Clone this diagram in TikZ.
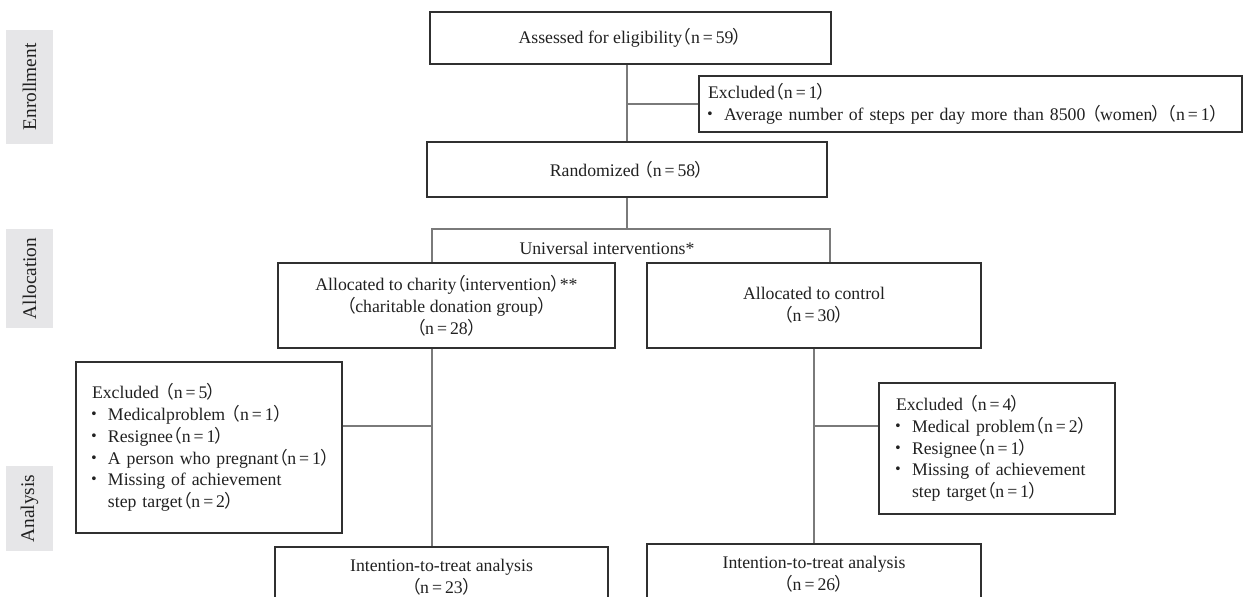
\documentclass[tikz,border=0pt]{standalone}
\usepackage{fontspec}
\setmainfont{Liberation Serif}
\newfontfamily\cjk[RawFeature=+palt]{Noto Sans CJK JP}
\usetikzlibrary{positioning, calc}
\definecolor{phasegray}{HTML}{E6E6E8}
\definecolor{boxline}{HTML}{303030}
\definecolor{linkgray}{HTML}{7A7A7A}
\newcommand\po{{\cjk （}}
\newcommand\pc{{\cjk ）}}
\newcommand\ncount[1]{\po n\,=\,#1\pc}
\newcommand\dotitem{\makebox[0.9em][l]{\hspace{-0.1em}{\cjk ・}}}

\begin{document}
\begin{tikzpicture}[
    x=0.02cm, y=-0.02cm,
    every node/.style={font=\fontsize{10.1}{12.4}\selectfont, text=black!87},
    flowbox/.style={draw=boxline, line width=1.1pt, rectangle, inner sep=0pt, fill=white},
    listbox/.style={flowbox, align=left},
    link/.style={draw=linkgray, line width=0.8pt},
    phase/.style={fill=phasegray, rotate=90, minimum height=0.94cm, font=\fontsize{11}{13}\selectfont}
]
    \useasboundingbox (0,0) rectangle (1243,597);

    % Phase labels (left column)
    \node[phase, minimum width=2.28cm] (enroll) at (29.5,87) {Enrollment};
    \node[phase, minimum width=1.98cm] (alloc) at (29.5,278.5) {Allocation};
    \node[phase, minimum width=1.7cm] (analys) at (29.5,508.5) {Analysis};

    % Enrollment
    \node[flowbox, minimum width=8.02cm, minimum height=1.04cm] (assess) at (630.5,38) {Assessed for eligibility\ncount{59}};
    \node[listbox, minimum height=1.12cm, text width=10.5cm, inner xsep=0.18cm] (exc0) at (970.5,104)
        {Excluded\ncount{1}\\
         \dotitem Average number of steps per day more than 8500 \po women\pc\ \ncount{1}};
    \node[flowbox, minimum width=8cm, minimum height=1.1cm] (rand) at (627,169.5) {Randomized \ncount{58}};

    % Allocation
    \node (univ) at (607,248) {Universal interventions*};
    \node[flowbox, minimum width=6.74cm, minimum height=1.7cm, align=center] (charity) at (446.5,305.5)
        {Allocated to charity\po intervention\pc**\\\po charitable donation group\pc\\\ncount{28}};
    \node[flowbox, minimum width=6.68cm, minimum height=1.7cm, align=center] (control) at (814,305.5)
        {Allocated to control\\\ncount{30}};

    % Analysis
    \node[listbox, minimum height=3.42cm, text width=4.68cm, inner xsep=0.32cm] (excL) at (209,447.5)
        {Excluded \ncount{5}\\
         \dotitem Medicalproblem \ncount{1}\\
         \dotitem Resignee\ncount{1}\\
         \dotitem\mbox{A person who pregnant\ncount{1}}\\
         \dotitem Missing of achievement\\
         \hphantom{\dotitem}step target\ncount{2}};
    \node[listbox, minimum height=2.62cm, text width=4.04cm, inner xsep=0.34cm] (excR) at (997,448.5)
        {Excluded \ncount{4}\\
         \dotitem Medical problem\ncount{2}\\
         \dotitem Resignee\ncount{1}\\
         \dotitem Missing of achievement\\
         \hphantom{\dotitem}step target\ncount{1}};
    \node[flowbox, minimum width=6.66cm, minimum height=1.2cm, align=center] (ittL) at (441.5,577)
        {Intention-to-treat analysis\\\ncount{23}};
    \node[flowbox, minimum width=6.68cm, minimum height=1.2cm, align=center] (ittR) at (814,574)
        {Intention-to-treat analysis\\\ncount{26}};

    % Connectors
    \draw[link] (assess.south -| rand.north) -- (rand.north);
    \draw[link] (exc0.west -| rand.north) -- (exc0.west);

    \coordinate (splitL) at (432,229);
    \coordinate (splitR) at (830,229);
    \draw[link] (rand.south) -- (rand.south |- splitL);
    \draw[link] (charity.north -| splitL) -- (splitL) -- (splitR) -- (control.north -| splitR);

    \coordinate (brL) at (432,426);
    \coordinate (brR) at (814,426);
    \draw[link] (charity.south -| splitL) -- (ittL.north -| splitL);
    \draw[link] (brL) -- (excL.east |- brL);
    \draw[link] (control.south) -- (ittR.north);
    \draw[link] (brR) -- (excR.west |- brR);

\end{tikzpicture}
\end{document}
